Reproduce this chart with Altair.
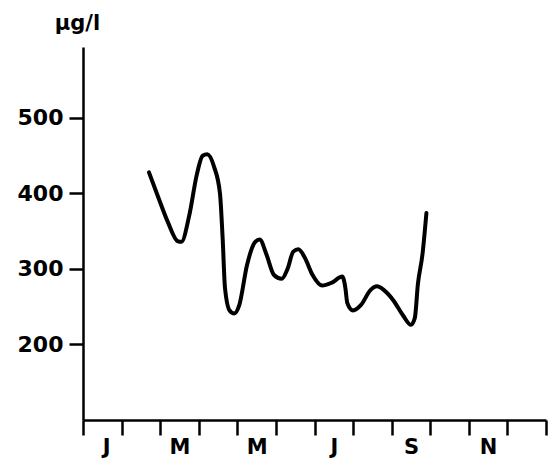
import altair as alt
import pandas as pd

# Month position (0 = start of January) and concentration (µg/l)
month_pos = [1.71, 1.95, 2.2, 2.45, 2.55, 2.75, 2.95, 3.1, 3.22, 3.4, 3.55, 3.62, 3.68, 3.8,
             3.92, 4.05, 4.25, 4.45, 4.58, 4.75, 4.95, 5.15, 5.3, 5.45, 5.58, 5.75, 5.95,
             6.2, 6.45, 6.72, 6.8, 6.85, 7.0, 7.2, 7.45, 7.62, 7.8, 8.05, 8.3, 8.5, 8.6,
             8.68, 8.8, 8.9]
conc = [428, 395, 362, 337, 336, 370, 425, 450, 452, 435, 400, 340, 275, 245,
        241, 252, 305, 335, 339, 320, 292, 287, 300, 323, 326, 315, 292,
        278, 282, 290, 275, 255, 245, 252, 272, 277, 272, 258, 238, 226, 235,
        280, 320, 374]

month_letters = ["J", "F", "M", "A", "M", "J", "J", "A", "S", "O", "N", "D"]
shown_months = [0, 2, 4, 6, 8, 10]
month_ticks = list(range(13))
y_ticks = [200, 300, 400, 500]

df = pd.DataFrame({"month": month_pos, "conc": conc})

letters_js = "[" + ",".join("'" + m + "'" for m in month_letters) + "]"
shown_js = "[" + ",".join(str(s) for s in shown_months) + "]"
label_expr = f"indexof({shown_js}, datum.value) >= 0 ? {letters_js}[datum.value] : ''"

FONT = "DejaVu Sans"

chart = alt.Chart(df).mark_line(
    interpolate="monotone", color="black", strokeWidth=4, strokeCap="round", strokeJoin="round"
).encode(
    x=alt.X("month:Q",
            scale=alt.Scale(domain=[0, 12], nice=False, zero=False),
            axis=alt.Axis(values=month_ticks, labelExpr=label_expr, labelOffset=19.3,
                          title=None, grid=False, tickSize=15, tickWidth=2.5,
                          domainWidth=2.5, domainColor="black", tickColor="black",
                          labelFont=FONT, labelFontSize=21, labelFontWeight="bold",
                          labelColor="black",
                          labelOverlap=False, labelPadding=1, labelBound=False)),
    y=alt.Y("conc:Q",
            scale=alt.Scale(domain=[100, 594], nice=False, zero=False),
            axis=alt.Axis(values=y_ticks, title="µg/l", titleAngle=0, titleX=-6, titleY=-18,
                          titleAlign="center", titleBaseline="alphabetic",
                          titleFont=FONT, titleFontSize=21, titleFontWeight="bold",
                          titleColor="black",
                          grid=False, tickSize=14, tickWidth=2.5, domainWidth=2.5,
                          domainColor="black", tickColor="black",
                          labelFont=FONT, labelFontSize=22, labelFontWeight="bold",
                          labelColor="black",
                          labelPadding=6, labelOverlap=False))
).properties(
    width=463, height=373,
    autosize=alt.AutoSizeParams(type="none"),
    padding={"left": 83, "top": 47, "right": 11, "bottom": 40},
    background="white"
).configure_view(stroke=None)

chart.save("out.html", embed_options={"renderer": "svg", "actions": False})
